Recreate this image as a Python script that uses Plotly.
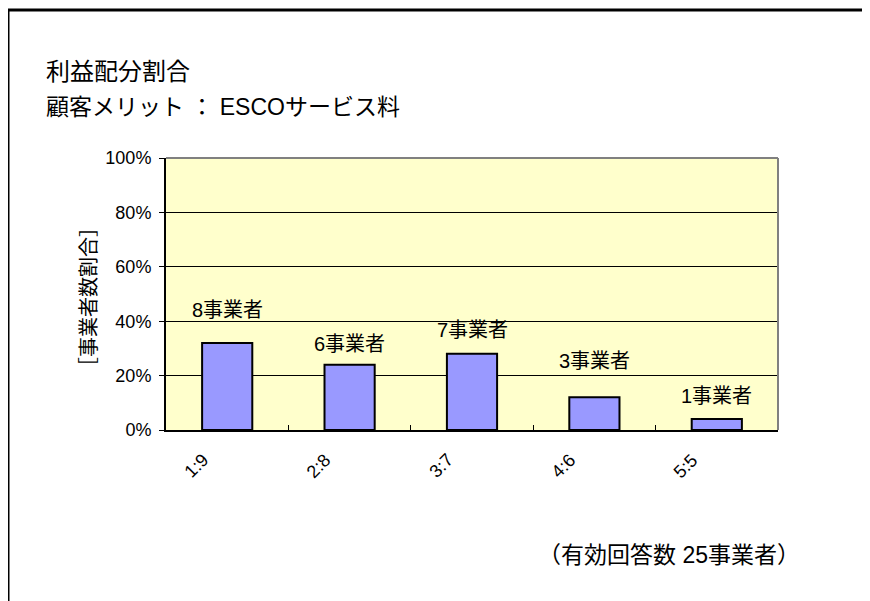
import plotly.graph_objects as go

categories = ["1:9", "2:8", "3:7", "4:6", "5:5"]
counts = [8, 6, 7, 3, 1]
total = 25
shares = [c / total for c in counts]
label_texts = [f"{c}事業者" for c in counts]
label_y = [0.441, 0.316, 0.368, 0.254, 0.125]

title1 = "利益配分割合"
title2 = "顧客メリット ： ESCOサービス料"
y_title = "［事業者数割合］"
footnote = "（有効回答数 25事業者）"

FONT = "Liberation Sans Narrow, Liberation Sans, Noto Sans CJK JP"

OFF = 8  # browser body margin
W, H = 870 - OFF, 601 - OFF
L, R, T, B = 166 - OFF, 778 - OFF, 158 - OFF, 430 - OFF

def px(x):
    return (x - OFF - L) / (R - L)

def py(y):
    return (B - (y - OFF)) / (B - T)

fig = go.Figure()
fig.add_trace(go.Bar(
    x=categories, y=shares, width=0.41,
    marker=dict(color="#9999FF", line=dict(color="black", width=2)),
    hoverinfo="skip",
))

for cat, t, yv in zip(categories, label_texts, label_y):
    fig.add_annotation(x=cat, y=yv, text=t, showarrow=False,
                       font=dict(size=20, color="black", family=FONT),
                       xanchor="center", yanchor="middle")
    fig.add_annotation(x=cat, yref="paper", y=py(466), text=cat, showarrow=False,
                       textangle=-45, xshift=-31, xanchor="center", yanchor="middle",
                       font=dict(size=18, color="black", family=FONT))

fig.add_annotation(xref="paper", yref="paper", x=px(44), y=py(71), text=title1,
                   showarrow=False, xanchor="left", yanchor="middle",
                   font=dict(size=24, color="black", family=FONT))
fig.add_annotation(xref="paper", yref="paper", x=px(44), y=py(107), text=title2,
                   showarrow=False, xanchor="left", yanchor="middle",
                   font=dict(size=23, color="black", family=FONT))
fig.add_annotation(xref="paper", yref="paper", x=px(89), y=py(297), text=y_title,
                   showarrow=False, textangle=-90, xanchor="center", yanchor="middle",
                   font=dict(size=20, color="black", family=FONT))
fig.add_annotation(xref="paper", yref="paper", x=px(536), y=py(555), text=footnote,
                   showarrow=False, xanchor="left", yanchor="middle",
                   font=dict(size=23, color="black", family=FONT))

# outer frame (top and left)
fig.add_shape(type="line", xref="paper", yref="paper", x0=px(8), x1=px(880), y0=py(10), y1=py(10),
              line=dict(color="black", width=3))
fig.add_shape(type="line", xref="paper", yref="paper", x0=px(8), x1=px(8), y0=py(10), y1=py(620),
              line=dict(color="black", width=3))
# grey plot frame top/right
fig.add_shape(type="line", xref="paper", yref="paper", x0=0, x1=1, y0=1, y1=1,
              line=dict(color="#808080", width=2))
fig.add_shape(type="line", xref="paper", yref="paper", x0=1, x1=1, y0=0, y1=1,
              line=dict(color="#808080", width=2))

fig.update_layout(
    width=W, height=H,
    margin=dict(l=L, r=W - R, t=T, b=H - B, autoexpand=False),
    paper_bgcolor="white", plot_bgcolor="#FFFFCC",
    showlegend=False, bargap=0.59,
    font=dict(family=FONT, color="black"),
)
fig.update_xaxes(
    type="category", showline=True, linecolor="black", linewidth=2,
    ticks="inside", tickson="boundaries", ticklen=5, tickcolor="black",
    showticklabels=False, showgrid=False,
)
fig.update_yaxes(
    range=[0, 1], dtick=0.2, tickformat=".0%", showline=True, linecolor="black", linewidth=2,
    ticks="outside", ticklen=5, tickcolor="black", showgrid=True, gridcolor="black", gridwidth=1,
    tickfont=dict(size=18, family=FONT), zeroline=False, ticklabelstandoff=4,
)

fig.write_html("out.html")
